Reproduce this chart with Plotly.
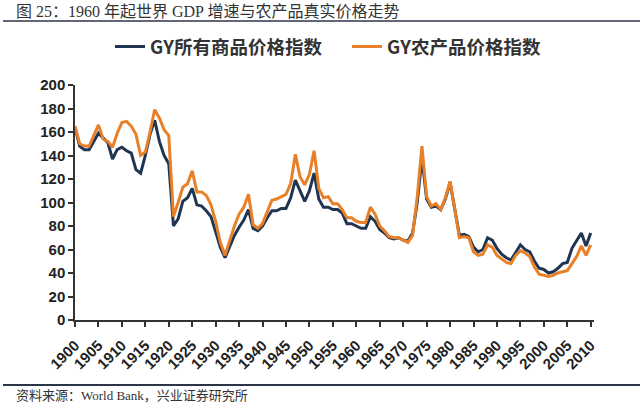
import plotly.graph_objects as go

years = list(range(1900, 2011))

# GY所有商品价格指数 (all commodities)
all_commodities = [
    164, 148, 145, 145, 152, 159, 155, 151, 137, 145,  # 1900-1909
    147, 144, 142, 128, 125, 140, 158, 170, 152, 140,  # 1910-1919
    133, 80, 86, 101, 104, 112, 98, 97, 93, 88,        # 1920-1929
    75, 62, 53, 62, 72, 79, 85, 94, 78, 76,            # 1930-1939
    80, 87, 93, 93, 95, 95, 104, 119, 110, 101,        # 1940-1949
    110, 125, 103, 96, 96, 94, 94, 91, 82, 82,         # 1950-1959
    80, 78, 78, 88, 84, 77, 74, 70, 69, 70,            # 1960-1969
    68, 67, 74, 100, 138, 103, 96, 97, 94, 103,        # 1970-1979
    117, 94, 72, 73, 71, 62, 58, 60, 70, 68,           # 1980-1989
    61, 56, 53, 51, 58, 64, 60, 58, 50, 44,            # 1990-1999
    43, 40, 41, 44, 48, 49, 61, 68, 74, 63,            # 2000-2009
    74,                                                # 2010
]

# GY农产品价格指数 (agriculture)
agriculture = [
    165, 150, 148, 148, 157, 166, 154, 152, 147, 159,  # 1900-1909
    168, 169, 165, 158, 140, 143, 160, 179, 172, 162,  # 1910-1919
    157, 88, 100, 113, 116, 127, 109, 109, 106, 98,    # 1920-1929
    84, 66, 55, 68, 80, 90, 96, 107, 81, 78,           # 1930-1939
    82, 92, 102, 103, 105, 107, 116, 141, 122, 115,    # 1940-1949
    124, 144, 112, 104, 105, 99, 99, 94, 87, 87,       # 1950-1959
    84, 83, 83, 96, 90, 80, 76, 71, 70, 70,            # 1960-1969
    68, 66, 72, 105, 148, 105, 97, 99, 94, 104,        # 1970-1979
    118, 94, 70, 71, 70, 58, 55, 56, 64, 62,           # 1980-1989
    55, 52, 49, 48, 55, 59, 57, 54, 45, 39,            # 1990-1999
    38, 37, 38, 40, 41, 42, 48, 54, 63, 55,            # 2000-2009
    64,                                                # 2010
]

tick_years = list(range(1900, 2011, 5))

BLUE = "#1f3552"
ORANGE = "#e8802a"
AXIS = "#333333"
SERIF = "Liberation Serif, Noto Sans CJK SC, serif"
SANS = "Noto Sans CJK SC, Noto Sans, sans-serif"
PW = 519  # plot width in px
PH = 235  # plot height in px

fig = go.Figure()
fig.add_trace(go.Scatter(x=years, y=all_commodities, mode="lines",
                         name="<b>GY所有商品价格指数</b>",
                         line=dict(color=BLUE, width=3)))
fig.add_trace(go.Scatter(x=years, y=agriculture, mode="lines",
                         name="<b>GY农产品价格指数</b>",
                         line=dict(color=ORANGE, width=3)))

fig.update_layout(
    width=640, height=404,
    margin=dict(l=75, r=46, t=85, b=84),
    paper_bgcolor="white", plot_bgcolor="white",
    font=dict(family=SANS, color="#222222"),
    showlegend=True,
    legend=dict(orientation="h", x=(110 - 75) / PW, xanchor="left",
                y=1 + (85 - 47) / PH, yanchor="middle",
                font=dict(size=18.5, color="#333333", family=SANS),
                entrywidth=192, entrywidthmode="pixels",
                tracegroupgap=0, bgcolor="rgba(0,0,0,0)"),
    xaxis=dict(range=[1900, 2010.7], tickvals=tick_years, ticktext=[str(y) for y in tick_years],
               tickangle=-45, showgrid=False, zeroline=False,
               showline=True, linecolor=AXIS, linewidth=1.5,
               ticks="outside", ticklen=5, tickcolor=AXIS, tickwidth=1.5,
               ticklabelstandoff=4,
               tickfont=dict(size=15, family="Liberation Sans, Arial, sans-serif",
                             color="#222222", weight="bold")),
    yaxis=dict(range=[0, 200], dtick=20, showgrid=False, zeroline=False,
               showline=True, linecolor=AXIS, linewidth=1.5,
               ticks="outside", ticklen=5, tickcolor=AXIS, tickwidth=1.5,
               tickfont=dict(size=15, family="Liberation Sans, Arial, sans-serif",
                             color="#222222", weight="bold")),
    annotations=[
        dict(text="图 25：1960 年起世界 GDP 增速与农产品真实价格走势", xref="paper", yref="paper",
             x=-(75 - 14) / PW, y=1 + (85 - 11) / PH, xanchor="left", yanchor="middle",
             showarrow=False, font=dict(family=SERIF, size=16, color="#333333")),
        dict(text="资料来源：World Bank，兴业证券研究所", xref="paper", yref="paper",
             x=-(75 - 14) / PW, y=-(395 - 320) / PH, xanchor="left", yanchor="middle",
             showarrow=False, font=dict(family=SERIF, size=13, color="#333333")),
    ],
    shapes=[
        dict(type="line", xref="paper", yref="paper", x0=-(75 - 3) / PW, x1=1 + 46 / PW,
             y0=1 + (85 - 21) / PH, y1=1 + (85 - 21) / PH,
             line=dict(color="#2c3548", width=1.5)),
        dict(type="line", xref="paper", yref="paper", x0=-(75 - 3) / PW, x1=1 + 46 / PW,
             y0=-(385 - 320) / PH, y1=-(385 - 320) / PH,
             line=dict(color="#2c3548", width=2)),
    ],
)

fig.write_html("out.html", config={"displayModeBar": False},
               post_script="document.body.style.margin='0';")
